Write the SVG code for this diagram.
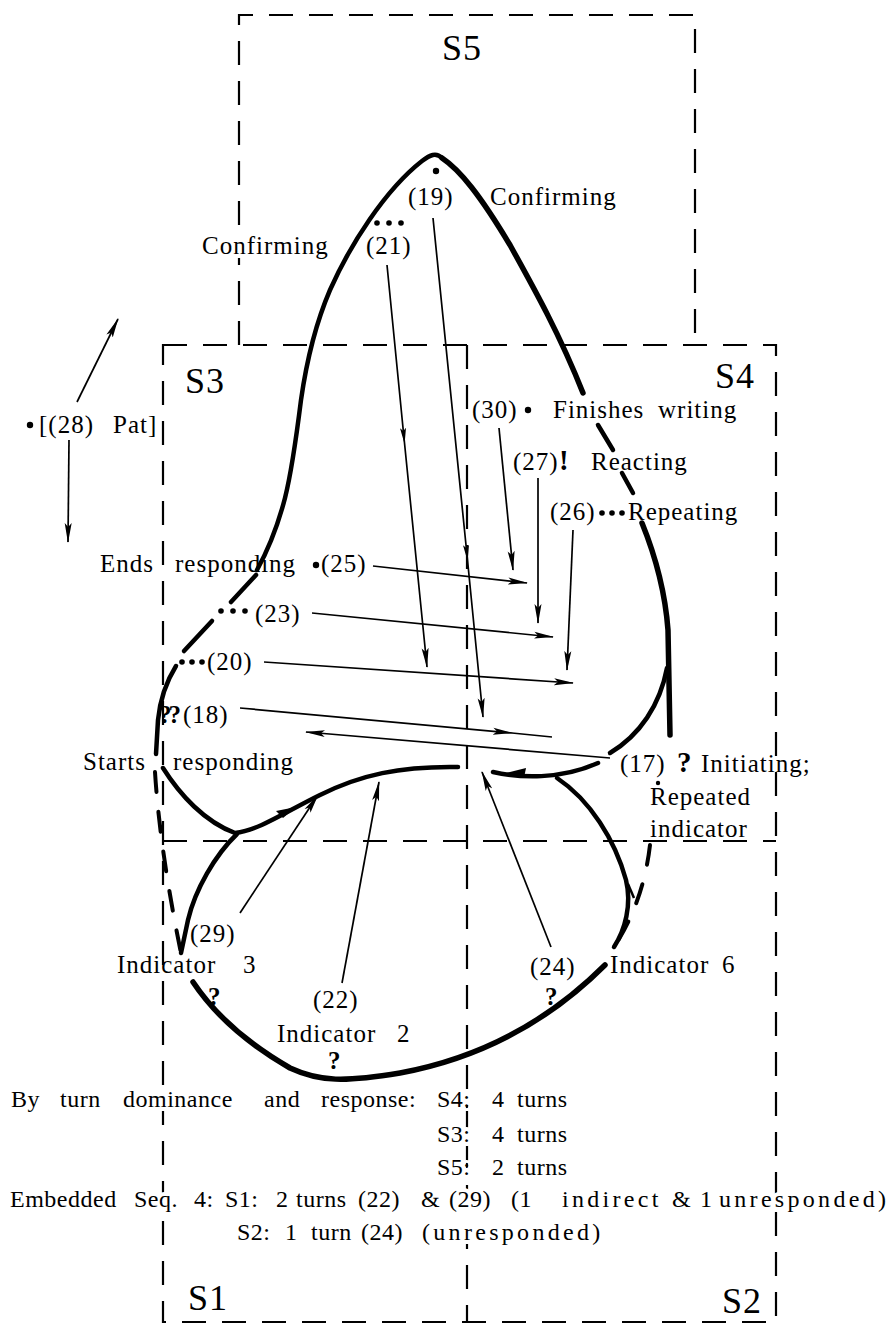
<svg xmlns="http://www.w3.org/2000/svg" width="895" height="1338" viewBox="0 0 895 1338" font-family="'Liberation Serif', 'DejaVu Serif', serif">
<defs>
<style>
text{font-family:'Liberation Serif','DejaVu Serif',serif}
.t{font-size:25px;letter-spacing:1px;fill:#000}
.big{font-size:36px;letter-spacing:1px}
.sum{font-size:24px;letter-spacing:0.5px}
.q{font-weight:bold}
.halo{paint-order:stroke;stroke:#fff;stroke-width:8px;stroke-linejoin:round}
.wide{letter-spacing:3.3px}
.box{fill:none;stroke:#000;stroke-width:2.2;stroke-dasharray:24 16}
.thick{fill:none;stroke:#000;stroke-width:4.5;stroke-linecap:round;stroke-linejoin:round}
.heavy{stroke-width:5.5}
.dthick{fill:none;stroke:#000;stroke-width:4;stroke-linecap:round;stroke-dasharray:20 20}
.thin{fill:none;stroke:#000;stroke-width:1.7}
.arr{marker-end:url(#ah)}
.mid{marker-mid:url(#am)}
.dot{fill:#000}
</style>
<marker id="ah" viewBox="0 0 20 8" refX="19" refY="4" markerWidth="20" markerHeight="8" markerUnits="userSpaceOnUse" orient="auto"><path d="M0,0.5 L20,4 L0,7.5 L4,4 z"/></marker>
<marker id="am" viewBox="0 0 16 7" refX="10" refY="3.5" markerWidth="16" markerHeight="7" markerUnits="userSpaceOnUse" orient="auto"><path d="M0,0.5 L16,3.5 L0,6.5 L3,3.5 z"/></marker>
</defs>
<rect width="895" height="1338" fill="#fff"/>

<!-- speaker regions -->
<g id="regions" class="box">
  <path d="M239,345 V15 H695 V345"/>
  <path d="M163,345 H776 V1322 H163 Z"/>
  <path d="M467,345 V1322"/>
  <path d="M163,841 H776"/>
</g>

<!-- region labels -->
<g id="S5"><text class="t big" x="442" y="60">S5</text></g>
<g id="S3"><text class="t big" x="185" y="393">S3</text></g>
<g id="S4"><text class="t big" x="715" y="388">S4</text></g>
<g id="S1"><text class="t big" x="188" y="1310">S1</text></g>
<g id="S2"><text class="t big" x="722" y="1313">S2</text></g>

<!-- connectors: turn paths and response arrows -->
<g id="connectors">
  <!-- main sequence outline -->
  <path class="thick" d="M442,158 C436,152 430,155 422,161 C385,190 350,245 330,290 C315,325 306,365 301,400 C296,440 292,470 285,498 C278,525 268,550 257,570"/>
  <path class="thick" d="M256,575 L231,602"/>
  <path class="thick" d="M212,621 L184,651"/>
  <path class="thick" d="M176,666 C166,682 160,700 158,720 L156,754"/>
  <path class="thick" d="M163,768 C180,795 205,822 235,833 C260,830 285,812 320,795 C360,775 400,766 458,767"/>
  <path class="thick heavy" d="M442,158 C460,170 480,195 510,245 C535,290 560,335 583,393"/>
  <path class="thick" d="M598,425 L613,450"/>
  <path class="thick" d="M622,473 L633,493"/>
  <path class="thick heavy" d="M642,523 C655,555 665,590 668,630 L670,735"/>
  <path class="thick" d="M667,668 C660,705 640,735 610,753"/>
  <path class="thick" d="M493,772 C520,778 560,780 598,763"/>
  <!-- embedded loop -->
  <path class="thick" d="M237,834 C215,855 195,890 188,920 L181,953"/>
  <path class="dthick" d="M155,772 C158,820 166,880 181,953"/>
  <path class="thick heavy" d="M193,982 C215,1015 250,1045 290,1068 C320,1082 345,1082 400,1073 C470,1060 540,1030 605,965"/>
  <path class="thick" d="M557,778 C590,800 615,840 626,880 C632,905 625,930 614,947"/>
  <path class="dthick" d="M650,845 C646,880 635,915 614,947"/>
  <path class="dot" d="M296,807 L276,811 L283,818 z"/>
  <path class="dot" d="M506,773 L526,768 L524,778 z"/>
  <path class="thin" d="M628,884 L634,898" style="stroke-width:2.5"/>

  <!-- response arrows -->
  <path class="thin arr" d="M77,402 L118,319"/>
  <path class="thin arr" d="M69,440 L68,542"/>
  <path class="thin arr mid" d="M387,265 L404,438 L427,667"/>
  <path class="thin arr mid" d="M433,218 L467,555 L483,717"/>
  <path class="thin arr" d="M499,428 L513,570"/>
  <path class="thin arr" d="M538,478 L538,623"/>
  <path class="thin arr" d="M573,530 L567,670"/>
  <path class="thin arr" d="M373,566 L527,583"/>
  <path class="thin arr" d="M312,613 L553,637"/>
  <path class="thin arr" d="M264,662 L573,683"/>
  <path class="thin" d="M240,708 L512,733 L552,737" style="marker-mid:url(#ah)"/>
  <path class="thin arr" d="M610,758 L306,732"/>
  <path class="thin arr" d="M240,913 L318,795"/>
  <path class="thin arr" d="M342,983 L379,782"/>
  <path class="thin arr" d="M551,947 L482,772"/>
</g>

<!-- turns -->
<g id="turn-19">
  <circle class="dot" cx="436" cy="171" r="3.2"/>
  <text class="t" x="408" y="205">(19)</text>
  <text class="t" x="490" y="205">Confirming</text>
</g>
<g id="turn-21">
  <circle class="dot" cx="377" cy="223" r="2.8"/>
  <circle class="dot" cx="389" cy="223" r="2.8"/>
  <circle class="dot" cx="401" cy="223" r="2.8"/>
  <text class="t halo" x="202" y="254">Confirming</text>
  <text class="t" x="366" y="254">(21)</text>
</g>
<g id="turn-28">
  <circle class="dot" cx="30" cy="425" r="3.2"/>
  <text class="t" x="39" y="433">[(28)</text>
  <text class="t" x="113" y="433">Pat]</text>
</g>
<g id="turn-30">
  <text class="t" x="472" y="418">(30)</text>
  <circle class="dot" cx="528" cy="410" r="3.2"/>
  <text class="t" x="553" y="418">Finishes</text>
  <text class="t" x="658" y="418">writing</text>
</g>
<g id="turn-27">
  <text class="t" x="513" y="470">(27)</text>
  <text class="t q" x="559" y="470" style="font-size:29px">!</text>
  <text class="t" x="591" y="470">Reacting</text>
</g>
<g id="turn-26">
  <text class="t" x="550" y="520">(26)</text>
  <circle class="dot" cx="602" cy="513" r="2.8"/>
  <circle class="dot" cx="612" cy="513" r="2.8"/>
  <circle class="dot" cx="622" cy="513" r="2.8"/>
  <text class="t" x="628" y="520">Repeating</text>
</g>
<g id="turn-25">
  <text class="t" x="100" y="572">Ends</text>
  <text class="t" x="175" y="572">responding</text>
  <circle class="dot" cx="316" cy="565" r="3.2"/>
  <text class="t" x="321" y="572">(25)</text>
</g>
<g id="turn-23">
  <circle class="dot" cx="221" cy="611" r="2.8"/>
  <circle class="dot" cx="233" cy="611" r="2.8"/>
  <circle class="dot" cx="245" cy="611" r="2.8"/>
  <text class="t" x="255" y="622">(23)</text>
</g>
<g id="turn-20">
  <circle class="dot" cx="182" cy="662" r="2.8"/>
  <circle class="dot" cx="192" cy="662" r="2.8"/>
  <circle class="dot" cx="202" cy="662" r="2.8"/>
  <text class="t" x="207" y="670">(20)</text>
</g>
<g id="turn-18">
  <text class="t q" x="159" y="723" style="letter-spacing:-3px">??</text>
  <text class="t" x="183" y="723">(18)</text>
  <text class="t" x="83" y="770">Starts</text>
  <text class="t" x="173" y="770">responding</text>
</g>
<g id="turn-17">
  <text class="t" x="620" y="772">(17)</text>
  <text class="t q" x="677" y="772" style="font-size:29px">?</text>
  <text class="t" x="701" y="772">Initiating;</text>
  <circle class="dot" cx="658" cy="783" r="2.2"/>
  <text class="t" x="650" y="805">Repeated</text>
  <text class="t" x="650" y="837">indicator</text>
</g>
<g id="turn-29">
  <text class="t" x="190" y="942">(29)</text>
  <text class="t" x="117" y="973">Indicator</text>
  <text class="t" x="243" y="973">3</text>
  <text class="t q" x="208" y="1005">?</text>
</g>
<g id="turn-22">
  <text class="t" x="313" y="1008">(22)</text>
  <text class="t" x="277" y="1042">Indicator</text>
  <text class="t" x="397" y="1042">2</text>
  <text class="t q" x="328" y="1069">?</text>
</g>
<g id="turn-24">
  <text class="t" x="530" y="975">(24)</text>
  <text class="t q" x="545" y="1005">?</text>
  <text class="t" x="610" y="973">Indicator</text>
  <text class="t" x="722" y="973">6</text>
</g>

<!-- summary -->
<g id="summary">
  <text class="t sum halo" y="1107"><tspan x="11">By</tspan><tspan x="60">turn</tspan><tspan x="123">dominance</tspan><tspan x="264">and</tspan><tspan x="321">response:</tspan><tspan x="437">S4:</tspan><tspan x="492">4</tspan><tspan x="517">turns</tspan></text>
  <text class="t sum halo" y="1142"><tspan x="437">S3:</tspan><tspan x="492">4</tspan><tspan x="517">turns</tspan></text>
  <text class="t sum halo" y="1175"><tspan x="437">S5:</tspan><tspan x="492">2</tspan><tspan x="517">turns</tspan></text>
  <text class="t sum halo" y="1207"><tspan x="10">Embedded</tspan><tspan x="134">Seq.</tspan><tspan x="194">4:</tspan><tspan x="225">S1:</tspan><tspan x="276">2</tspan><tspan x="296">turns</tspan><tspan x="358">(22)</tspan><tspan x="421">&amp;</tspan><tspan x="449">(29)</tspan><tspan x="511">(1</tspan><tspan class="wide" x="562">indirect</tspan><tspan x="672">&amp;</tspan><tspan x="700">1</tspan><tspan class="wide" x="719">unresponded)</tspan></text>
  <text class="t sum halo" y="1240"><tspan x="237">S2:</tspan><tspan x="285">1</tspan><tspan x="311">turn</tspan><tspan x="361">(24)</tspan><tspan class="wide" x="422">(unresponded)</tspan></text>
</g>
</svg>
